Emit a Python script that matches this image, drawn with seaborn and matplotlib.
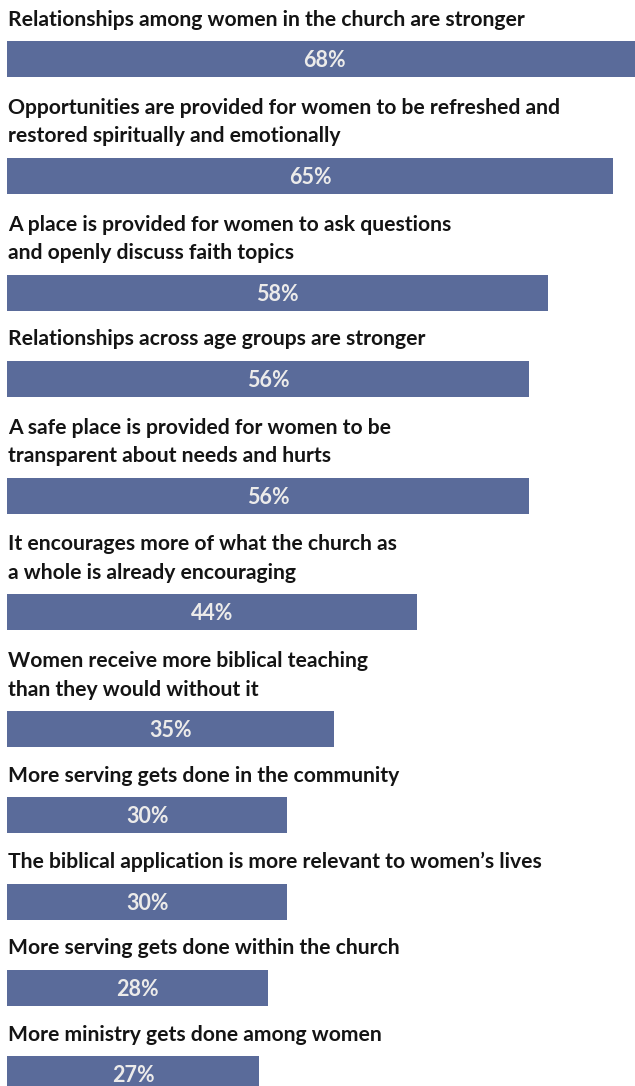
import pandas as pd
import matplotlib.pyplot as plt
import seaborn as sns

# ── Data ──
labels = [
    "Relationships among women in the church are stronger",
    "Opportunities are provided for women to be refreshed and\nrestored spiritually and emotionally",
    "A place is provided for women to ask questions\nand openly discuss faith topics",
    "Relationships across age groups are stronger",
    "A safe place is provided for women to be\ntransparent about needs and hurts",
    "It encourages more of what the church as\na whole is already encouraging",
    "Women receive more biblical teaching\nthan they would without it",
    "More serving gets done in the community",
    "The biblical application is more relevant to women\u2019s lives",
    "More serving gets done within the church",
    "More ministry gets done among women",
]
values = [68, 65, 58, 56, 56, 44, 35, 30, 30, 28, 27]

# ── Layout (pixels) ──
W, H = 635, 1086
BAR_COLOR = "#5a6b9a"
BAR_H = 36
STEP = 86.2          # bar top to next bar top, single-line label
EXTRA_LINE = 30.6    # added per extra label line
LINE_GAP = 28.5      # between label lines
X0_PX, PX_PER_UNIT = 7.5, 9.316

tops = []
y = 41
for i, lab in enumerate(labels):
    if i > 0:
        y += STEP + EXTRA_LINE * lab.count("\n")
    tops.append(y)

df = pd.DataFrame({"label": labels, "value": values,
                   "ypos": [t + BAR_H / 2 for t in tops]})

sns.set_theme(style="white")
plt.rcParams["font.family"] = ["Lato", "DejaVu Sans"]

fig = plt.figure(figsize=(W / 100, H / 100), dpi=100)
ax = fig.add_axes([0, 0, 1, 1])

sns.barplot(data=df, x="value", y="ypos", orient="y", native_scale=True,
            width=BAR_H / STEP, color=BAR_COLOR, saturation=1,
            errorbar=None, linewidth=0, ax=ax)

ax.set_xlim(-X0_PX / PX_PER_UNIT, (W - X0_PX) / PX_PER_UNIT)
ax.set_ylim(H, 0)
ax.axis("off")

x_text = (8.5 - X0_PX) / PX_PER_UNIT
for lab, val, top in zip(df["label"], df["value"], tops):
    lines = lab.split("\n")
    for k, line in enumerate(lines):
        base = top - 15.5 - LINE_GAP * (len(lines) - 1 - k)
        ax.text(x_text, base, line, ha="left", va="baseline",
                fontsize=15.2, fontweight="bold", color="#141414")
    ax.text(val / 2, top + BAR_H / 2 + 8, f"{val}%", ha="center",
            va="baseline", fontsize=15.5, fontweight="bold", color="#ecebea")

fig.savefig("out.png", dpi=100)
